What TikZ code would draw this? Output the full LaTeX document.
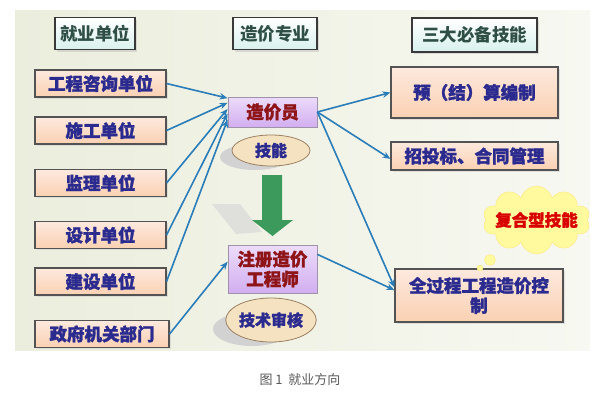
\documentclass[tikz,border=0pt]{standalone}
\usepackage{fontspec}
\setmainfont{Noto Sans CJK SC}
\newfontfamily\heavycjk[FakeBold=1.6]{Noto Sans CJK SC}
\newfontfamily\slantcjk[AutoFakeSlant=0.22,FakeBold=1.6]{Noto Sans CJK SC}
\usetikzlibrary{arrows.meta,positioning,calc,shapes,shapes.symbols,shadows}

\definecolor{panelbg}{HTML}{EBEEDD}
\definecolor{panelright}{HTML}{F7F8F1}
\definecolor{linkblue}{HTML}{2A7DB8}
\definecolor{boxtext}{HTML}{2B2B8F}
\definecolor{headtext}{HTML}{2F4F45}
\definecolor{redtext}{HTML}{8E1418}
\definecolor{orangemid}{HTML}{F6AC70}
\definecolor{orangelight}{HTML}{FDE9DE}
\definecolor{lilac}{HTML}{D2AEF0}
\definecolor{lilaclight}{HTML}{ECDCFA}
\definecolor{headfill}{HTML}{D8F1EE}
\definecolor{ovalfill}{HTML}{F5E2C0}
\definecolor{arrowgreen}{HTML}{3C9A5C}
\definecolor{cloudyellow}{HTML}{FFFA9E}

\tikzset{
  boxfont/.style={font=\fontsize{17.5}{20}\selectfont\heavycjk\bfseries},
  headbox/.style={draw=gray!45!black, line width=1.8pt, top color=white, bottom color=headfill,
    text=headtext, font=\fontsize{17.5}{20}\selectfont\bfseries, inner sep=0pt, minimum height=32pt,
    drop shadow={shadow xshift=2pt, shadow yshift=-2pt, fill=gray!50}},
  unitbox/.style={draw=gray!65!black, line width=1.1pt, top color=orangelight, middle color=orangemid,
    bottom color=orangelight!60!orangemid, text=boxtext, boxfont, inner sep=0pt,
    minimum width=131pt, minimum height=27pt,
    drop shadow={shadow xshift=1.5pt, shadow yshift=-1.5pt, fill=gray!40}},
  rolebox/.style={draw=gray!60!lilac, line width=0.8pt, top color=lilaclight, bottom color=lilac,
    text=redtext, boxfont, inner sep=0pt, minimum width=89pt, align=center},
  skillbox/.style={unitbox, minimum width=167pt},
  oval/.style={ellipse, draw=brown!45!gray, line width=0.8pt, fill=ovalfill, text=boxtext,
    font=\fontsize{16}{18}\selectfont\heavycjk\bfseries, inner sep=0pt},
  ovalshadow/.style={ellipse, fill=gray!35, inner sep=0pt},
  link/.style={draw=linkblue, line width=1.6pt, -{Stealth[length=8pt,width=6.5pt]}},
}

\begin{document}
\begin{tikzpicture}[x=1pt,y=-1pt]
  \useasboundingbox (0,0) rectangle (600,400);
  % panel
  \shade[left color=panelbg, right color=panelright] (15,10) rectangle (590,350);

  % headers
  \node[headbox, minimum width=80pt] (hjob) at (95,33.5) {就业单位};
  \node[headbox, minimum width=84pt] (hmajor) at (275,33.5) {造价专业};
  \node[headbox, minimum width=125pt, minimum height=34pt] (hskill) at (474.5,35) {三大必备技能};

  % employers
  \node[unitbox] (gczx) at (100.5,83.5) {工程咨询单位};
  \node[unitbox] (sgdw) at (100.5,130.5) {施工单位};
  \node[unitbox] (jldw) at (100.5,183) {监理单位};
  \node[unitbox] (sjdw) at (100.5,235) {设计单位};
  \node[unitbox] (jsdw) at (100.5,281.5) {建设单位};
  \node[unitbox, minimum width=134pt] (zfbm) at (102,334) {政府机关部门};

  % roles
  \node[ovalshadow, minimum width=70pt, minimum height=26pt] at (255,157) {};
  \node[ovalshadow, minimum width=78pt, minimum height=34pt] at (252,329) {};
  \node[rolebox, minimum height=30pt] (zjy) at (272.5,112) {造价员};
  \node[oval, minimum width=78pt, minimum height=31pt] (jn) at (271,150.5) {技能};
  \node[rolebox, minimum height=48pt] (zcgcs) at (272.5,269) {注册造价\\工程师};
  \node[oval, minimum width=88pt, minimum height=44pt] (jssh) at (271,320) {技术审核};

  % green arrow
  \fill[gray!30, opacity=0.7] (212,204) -- (240,204) -- (262,232) -- (236,234) -- cycle;
  \fill[arrowgreen] (262,175) -- (282,175) -- (282,220) -- (293,220) -- (272.5,236)
    -- (252,220) -- (262,220) -- cycle;

  % skills
  \node[skillbox, minimum height=51pt] (ysbz) at (474.5,92.5) {预（结）算编制};
  \node[skillbox, minimum height=28pt] (ztb) at (474.5,156) {招投标、合同管理};
  \node[skillbox, minimum width=168pt, minimum height=53pt, align=center] (qgc) at (479,295.5)
    {全过程工程造价控\\制};

  % cloud
  \node[cloud, cloud puffs=10, aspect=1.6, fill=cloudyellow, draw=yellow!70!orange!50,
    minimum width=107pt, minimum height=68pt, inner sep=0pt] (fhx) at (536.5,220) {};
  \node[text=red!85!black, font=\fontsize{16.5}{19}\selectfont\slantcjk\bfseries] at (fhx.center) {复合型技能};
  \fill[cloudyellow, draw=yellow!70!orange!50] (490,260) circle (5.5);
  \fill[cloudyellow, draw=yellow!70!orange!50] (480,268) circle (3);

  % links into 造价员
  \draw[link] (gczx.east) -- ($(zjy.north west)!0.05!(zjy.south west)$);
  \draw[link] (sgdw.east) -- ($(zjy.north west)!0.2!(zjy.south west)$);
  \draw[link] (jldw.east) -- ($(zjy.north west)!0.4!(zjy.south west)$);
  \draw[link] (sjdw.east) -- ($(zjy.north west)!0.55!(zjy.south west)$);
  \draw[link] (jsdw.east) -- ($(zjy.north west)!0.75!(zjy.south west)$);
  \draw[link] (zfbm.east) -- ($(zcgcs.north west)!0.35!(zcgcs.south west)$);

  % links out
  \draw[link] ($(zjy.north east)!0.5!(zjy.south east)$) -- ($(ysbz.north west)!0.5!(ysbz.south west)$);
  \draw[link] ($(zjy.north east)!0.5!(zjy.south east)$) -- ($(ztb.north west)!0.6!(ztb.south west)$);
  \draw[link] ($(zjy.north east)!0.5!(zjy.south east)$) -- ($(qgc.north west)!0.35!(qgc.south west)$);
  \draw[link] ($(zcgcs.north east)!0.2!(zcgcs.south east)$) -- ($(qgc.north west)!0.4!(qgc.south west)$);

  % caption
  \node[text=gray!70!black, font=\fontsize{13}{15}\selectfont] (cap) at (300,380) {图 1\ \ 就业方向};
\end{tikzpicture}
\end{document}
